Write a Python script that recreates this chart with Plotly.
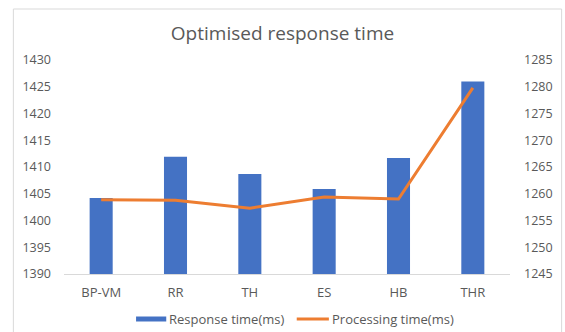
import plotly.graph_objects as go

# Algorithms compared
categories = ["BP-VM", "RR", "TH", "ES", "HB", "THR"]
# Response time (ms), left axis
response_ms = [1404.2, 1411.9, 1408.7, 1405.9, 1411.7, 1426.0]
# Processing time (ms), right axis
processing_ms = [1258.9, 1258.8, 1257.3, 1259.4, 1259.0, 1279.8]

left_ticks = [1390, 1395, 1400, 1405, 1410, 1415, 1420, 1425, 1430]
right_ticks = [1245, 1250, 1255, 1260, 1265, 1270, 1275, 1280, 1285]

BLUE = "#4472C4"
ORANGE = "#ED7D31"
TEXT = "#595959"
FONT = "Open Sans"

W, H = 565, 332
L, R, T, B = 64, 43, 60, 58
pw, ph = W - L - R, H - T - B


def px_x(x):
    return (x - L) / pw


def px_y(y):
    return (H - B - y) / ph


fig = go.Figure()
fig.add_trace(go.Bar(
    x=categories, y=response_ms, name="Response time(ms)",
    marker=dict(color=BLUE, line=dict(width=0)), yaxis="y",
    showlegend=False,
))
fig.add_trace(go.Scatter(
    x=categories, y=processing_ms, name="Processing time(ms)",
    mode="lines", line=dict(color=ORANGE, width=3), yaxis="y2",
    showlegend=False,
))

LEG_Y = 319
shapes = [
    # chart border
    dict(type="rect", xref="paper", yref="paper",
         x0=px_x(12), x1=px_x(575), y0=px_y(345), y1=px_y(9),
         line=dict(color="#D9D9D9", width=1), fillcolor="rgba(0,0,0,0)", layer="below"),
    # legend keys
    dict(type="rect", xref="paper", yref="paper",
         x0=px_x(138), x1=px_x(169), y0=px_y(LEG_Y + 2.5), y1=px_y(LEG_Y - 2.5),
         line=dict(width=0), fillcolor=BLUE),
    dict(type="line", xref="paper", yref="paper",
         x0=px_x(303), x1=px_x(336), y0=px_y(LEG_Y), y1=px_y(LEG_Y),
         line=dict(color=ORANGE, width=3)),
]

annotations = [
    dict(text="Response time(ms)", xref="paper", yref="paper",
         x=px_x(170), y=px_y(LEG_Y), xanchor="left", yanchor="middle",
         showarrow=False, font=dict(family=FONT, size=13, color=TEXT)),
    dict(text="Processing time(ms)", xref="paper", yref="paper",
         x=px_x(337), y=px_y(LEG_Y), xanchor="left", yanchor="middle",
         showarrow=False, font=dict(family=FONT, size=13, color=TEXT)),
]

fig.update_layout(
    width=W, height=H,
    margin=dict(l=L, r=R, t=T, b=B, pad=0),
    paper_bgcolor="white", plot_bgcolor="white",
    font=dict(family=FONT, size=12, color=TEXT),
    title=dict(text="Optimised response time", x=px_x(293), xanchor="center",
               y=1 - 33 / H, yanchor="middle",
               font=dict(family=FONT, size=19, color=TEXT)),
    bargap=0.69,
    xaxis=dict(showgrid=False, showline=True, linecolor="#D9D9D9", linewidth=1,
               ticks="", tickfont=dict(size=13, color=TEXT), ticklabelstandoff=6),
    yaxis=dict(range=[1390, 1430], tickvals=left_ticks, showgrid=False,
               zeroline=False, showline=False, ticks="",
               tickfont=dict(size=12.5, color=TEXT), ticklabelstandoff=12),
    yaxis2=dict(range=[1245, 1285], tickvals=right_ticks, overlaying="y",
                side="right", showgrid=False, zeroline=False, showline=False,
                ticks="", tickfont=dict(size=12.5, color=TEXT), ticklabelstandoff=13),
    shapes=shapes,
    annotations=annotations,
    showlegend=False,
)

fig.write_html("out.html")
